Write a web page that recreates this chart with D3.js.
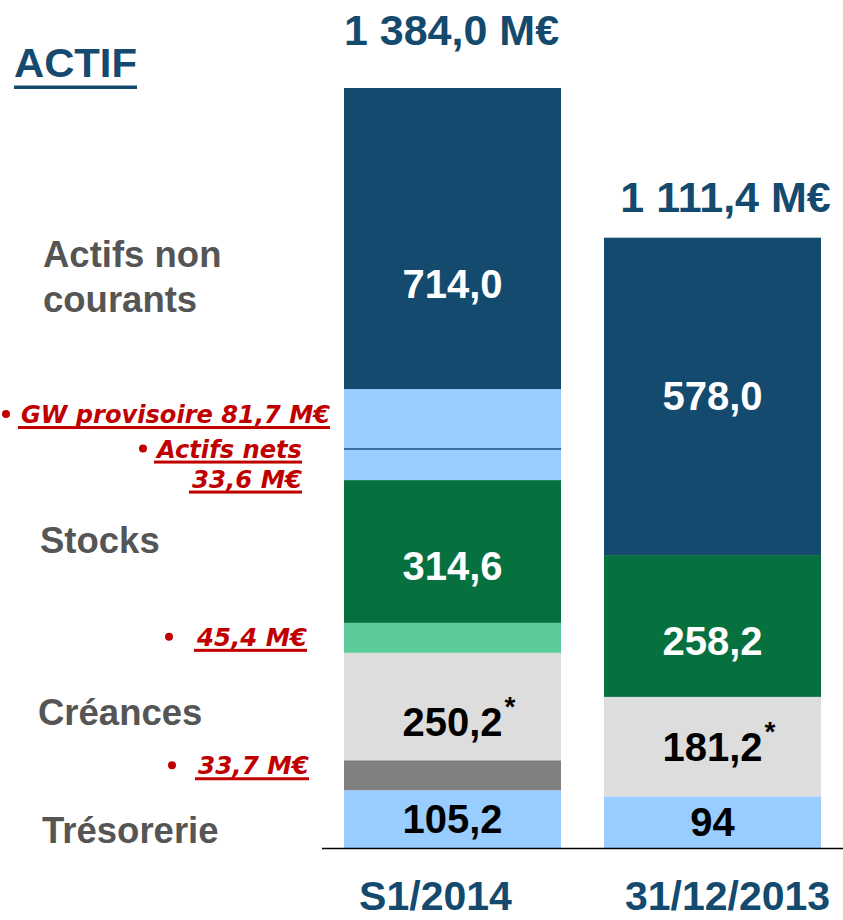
<!DOCTYPE html>
<html>
  <head>
    <meta charset="UTF-8">
    <title>Actif</title>
    <style>
      body { margin: 0; background: #fff; }
      svg text { font-family: "Liberation Sans", Arial, sans-serif; font-weight: bold; }
      svg .note { font-family: "Comic Sans MS", "DejaVu Sans", sans-serif; font-style: italic; fill: #c00000; }
    </style>
    <script src="https://cdn.jsdelivr.net/npm/d3@7"></script>
  </head>
  <body>
    <div id="chart"></div>
    <script>
      // data
      var periods = ["S1/2014", "31/12/2013"];
      var categories = ["Trésorerie", "Créances", "Stocks", "Actifs non courants"];
      var valuesS1 = [105.2, 250.2, 314.6, 714.0];
      var values2013 = [94, 181.2, 258.2, 578.0];
      var labelsS1 = ["105,2", "250,2", "314,6", "714,0"];
      var labels2013 = ["94", "181,2", "258,2", "578,0"];
      var totals = [1384.0, 1111.4];
      var totalLabels = ["1 384,0 M€", "1 111,4 M€"];
      // S1/2014 bar split into parts, bottom to top (drawn heights)
      var partsS1 = ["Trésorerie", "Créances (33,7)", "Créances", "Stocks (45,4)", "Stocks", "Actifs nets", "GW provisoire", "Actifs non courants"];
      var partValuesS1 = [105.2, 54.6, 195.6, 54.6, 260.0, 56.5, 109.3, 548.2];
      var notes = ["GW provisoire 81,7 M€", "Actifs nets", "33,6 M€", "45,4 M€", "33,7 M€"];

      var width = 843, height = 920;
      var baseY = 848;

      var colors = {
        "Trésorerie": "#99ccff",
        "Créances": "#dddddd",
        "Créances (33,7)": "#808080",
        "Stocks": "#06703f",
        "Stocks (45,4)": "#5ccb99",
        "Actifs non courants": "#134a6e",
        "Actifs nets": "#99ccff",
        "GW provisoire": "#99ccff"
      };
      var navy = "#134a6e";

      var svg = d3.select("#chart").append("svg")
        .attr("width", width)
        .attr("height", height);

      var x = d3.scaleBand().domain(periods).range([344, 821]).paddingInner(0.1654).paddingOuter(0);
      var y = d3.scaleLinear().domain([0, 1384.0]).range([baseY, 88]);

      function stack(vals) {
        var acc = 0;
        return vals.map(function(v) { var d = {y0: acc, y1: acc + v}; acc += v; return d; });
      }

      // bar S1/2014 with detail parts
      var s1 = stack(partValuesS1).map(function(d, i) { d.key = partsS1[i]; return d; });
      svg.append("g").selectAll("rect")
        .data(s1)
        .enter().append("rect")
          .attr("x", x(periods[0]))
          .attr("width", x.bandwidth())
          .attr("y", function(d) { return y(d.y1); })
          .attr("height", function(d) { return y(d.y0) - y(d.y1); })
          .attr("fill", function(d) { return colors[d.key]; });

      // separator between GW and actifs nets
      var nets = s1[5];
      svg.append("line")
        .attr("x1", x(periods[0])).attr("x2", x(periods[0]) + x.bandwidth())
        .attr("y1", y(nets.y1)).attr("y2", y(nets.y1))
        .attr("stroke", "#1f4e79").attr("stroke-width", 1.5);

      // bar 31/12/2013
      var s2 = stack(values2013).map(function(d, i) { d.key = categories[i]; return d; });
      svg.append("g").selectAll("rect")
        .data(s2)
        .enter().append("rect")
          .attr("x", x(periods[1]))
          .attr("width", x.bandwidth())
          .attr("y", function(d) { return y(d.y1); })
          .attr("height", function(d) { return y(d.y0) - y(d.y1); })
          .attr("fill", function(d) { return colors[d.key]; });

      // baseline
      svg.append("line")
        .attr("x1", 322).attr("x2", width)
        .attr("y1", baseY + 0.5).attr("y2", baseY + 0.5)
        .attr("stroke", "#000").attr("stroke-width", 1.5);

      // value labels
      var valueSets = [
        {p: periods[0], seg: stack(valuesS1), labels: labelsS1},
        {p: periods[1], seg: stack(values2013), labels: labels2013}
      ];
      var shift = {"31/12/2013|Stocks": 15};
      valueSets.forEach(function(set) {
        set.seg.forEach(function(d, i) {
          var cat = categories[i];
          var dark = cat == "Stocks" || cat == "Actifs non courants";
          var cx = x(set.p) + x.bandwidth() / 2;
          var cy = (y(d.y0) + y(d.y1)) / 2 + 14 + (shift[set.p + "|" + cat] || 0);
          var t = svg.append("text")
            .attr("x", cx).attr("y", cy)
            .attr("text-anchor", "middle")
            .style("font-size", "40px")
            .attr("fill", dark ? "#fff" : "#000")
            .text(set.labels[i]);
          if (cat == "Créances") {
            var w = t.node().getComputedTextLength();
            svg.append("text")
              .attr("x", cx + w / 2 + 2).attr("y", cy - 20)
              .style("font-size", "28px")
              .attr("fill", "#000")
              .text("*");
          }
        });
      });

      // totals
      var totalDx = [-1, 13], totalGap = [43, 26];
      totals.forEach(function(t, i) {
        svg.append("text")
          .attr("x", x(periods[i]) + x.bandwidth() / 2 + totalDx[i])
          .attr("y", y(t) - totalGap[i])
          .attr("text-anchor", "middle")
          .style("font-size", "43px")
          .attr("fill", navy)
          .text(totalLabels[i]);
      });

      // period labels
      var periodDx = [-17, 15];
      periods.forEach(function(p, i) {
        svg.append("text")
          .attr("x", x(p) + x.bandwidth() / 2 + periodDx[i])
          .attr("y", 910)
          .attr("text-anchor", "middle")
          .style("font-size", "41px")
          .attr("fill", navy)
          .text(p);
      });

      // title
      svg.append("text")
        .attr("x", 14).attr("y", 77)
        .style("font-size", "40px")
        .attr("textLength", 123).attr("lengthAdjust", "spacingAndGlyphs")
        .attr("fill", navy)
        .text("ACTIF");
      svg.append("rect")
        .attr("x", 14).attr("y", 85.5).attr("width", 123).attr("height", 3.5)
        .attr("fill", navy);

      // category labels on the left
      var catLabels = [
        {lines: ["Trésorerie"], x: 42, y: 843},
        {lines: ["Créances"], x: 38, y: 725},
        {lines: ["Stocks"], x: 40, y: 553},
        {lines: ["Actifs non", "courants"], x: 43, y: 267}
      ];
      catLabels.forEach(function(c) {
        c.lines.forEach(function(l, j) {
          svg.append("text")
            .attr("x", c.x).attr("y", c.y + j * 45)
            .style("font-size", "36.5px")
            .attr("fill", "#555555")
            .text(l);
        });
      });

      // red notes on the left of bar S1/2014
      var mid = function(d) { return (y(d.y0) + y(d.y1)) / 2; };
      var noteLayout = [
        {end: 330, start: 21, y: mid(s1[6]) + 4, bullet: 6},
        {end: 302, start: 157, y: mid(s1[5]) - 7, bullet: 143},
        {end: 302, start: 192, y: mid(s1[5]) + 23, bullet: null},
        {end: 307, start: 197, y: mid(s1[3]) + 8, bullet: 169},
        {end: 309, start: 198, y: mid(s1[1]) - 1, bullet: 172}
      ];
      notes.forEach(function(n, i) {
        var L = noteLayout[i];
        svg.append("text")
          .attr("class", "note")
          .attr("x", L.start).attr("y", L.y)
          .style("font-size", "24px")
          .attr("textLength", L.end - L.start).attr("lengthAdjust", "spacingAndGlyphs")
          .text(n);
        svg.append("rect")
          .attr("x", L.start - 3).attr("y", L.y + 3)
          .attr("width", L.end - L.start + 3).attr("height", 3)
          .attr("fill", "#c00000");
        if (L.bullet != null) {
          svg.append("circle")
            .attr("cx", L.bullet).attr("cy", L.y - 9).attr("r", 4)
            .attr("fill", "#c00000");
        }
      });
    </script>
  </body>
</html>
